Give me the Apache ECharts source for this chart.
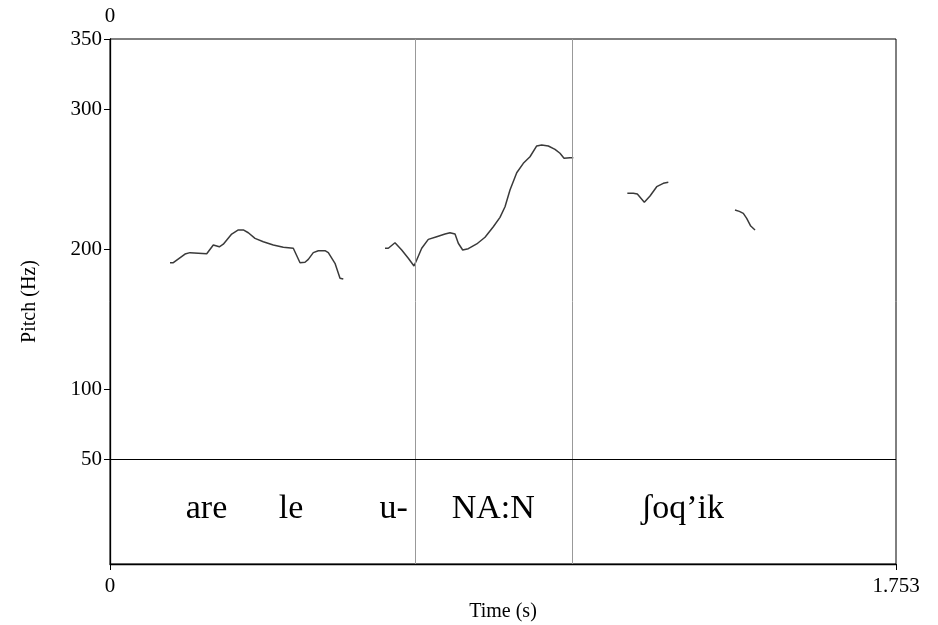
<!DOCTYPE html>
<html>
<head>
<meta charset="utf-8">
<script src="https://cdn.jsdelivr.net/npm/echarts@6/dist/echarts.min.js"></script>
<style>
  html, body { margin: 0; padding: 0; background: #fff; }
  #pitchChart { width: 938px; height: 625px; }
</style>
</head>
<body>
<div id="pitchChart"></div>
<script>
// pitch contour (time in s, pitch in Hz), one pair of arrays per voiced stretch
const seg1Time = [0.1338, 0.1412, 0.1673, 0.1784, 0.2157, 0.2304, 0.2438, 0.2527, 0.2714, 0.2862, 0.2973, 0.3085, 0.3234, 0.3419, 0.3642, 0.3865, 0.4088, 0.4238, 0.4349, 0.4423, 0.4534, 0.4646, 0.4795, 0.4869, 0.5018, 0.5130, 0.5203];
const seg1Hz   = [190.2, 190.2, 196.4, 197.4, 196.6, 202.9, 201.6, 203.4, 210.7, 213.6, 213.6, 211.6, 207.6, 205.2, 202.9, 201.2, 200.5, 190.2, 190.5, 192.6, 197.4, 198.8, 198.8, 197.4, 189.8, 179.1, 178.6];
const seg2Time = [0.6133, 0.6207, 0.6356, 0.6506, 0.6653, 0.6780, 0.6840, 0.6952, 0.7099, 0.7286, 0.7472, 0.7583, 0.7695, 0.7768, 0.7866, 0.7991, 0.8179, 0.8364, 0.8549, 0.8698, 0.8810, 0.8921, 0.9071, 0.9218, 0.9367, 0.9517, 0.9628, 0.9776, 0.9925, 1.0036, 1.0126, 1.0259, 1.0333];
const seg2Hz   = [200.5, 200.5, 204.5, 199.3, 193.4, 187.9, 192.1, 200.5, 206.9, 208.8, 210.7, 211.6, 210.7, 204.1, 199.3, 200.2, 203.6, 208.4, 215.9, 222.6, 230.2, 242.1, 254.5, 261.2, 265.9, 273.6, 274.3, 273.6, 271.2, 268.4, 264.8, 265.2, 265.2];
const seg3Time = [1.1538, 1.1671, 1.1761, 1.1917, 1.2044, 1.2193, 1.2340, 1.2452];
const seg3Hz   = [239.8, 239.8, 239.3, 233.4, 237.9, 244.5, 246.9, 247.6];
const seg4Time = [1.3939, 1.4036, 1.4125, 1.4200, 1.4290, 1.4386];
const seg4Hz   = [227.9, 226.9, 225.5, 221.9, 216.4, 213.6];

// text tier: interval boundaries (s) and the words with their centre times
const tierBoundaries = [0.678, 1.0326];
const tierWords = ['are', 'le', 'u-', 'NA:N', 'ʃoq’ik'];
const tierWordTimes = [0.2152, 0.4037, 0.6327, 0.8549, 1.2768];
const tierTop = 50;       // Hz line where the tier starts
const tierTextLevel = 14; // where the words sit inside the tier

// axes
const timeMax = 1.753;
const timeTicks = [0, 1.753];
const pitchMin = -25;
const pitchMax = 350;
const pitchTicks = [50, 100, 200, 300, 350];

const segments = [[seg1Time, seg1Hz], [seg2Time, seg2Hz], [seg3Time, seg3Hz], [seg4Time, seg4Hz]];
let contour = [];
segments.forEach(function (s, k) {
    if (k > 0) contour.push([s[0][0], '-']);
    s[0].forEach(function (t, i) { contour.push([t, s[1][i]]); });
});

const serif = 'Liberation Serif';

let chart = echarts.init(document.getElementById('pitchChart'));
let option = {
    backgroundColor: '#fff',
    animation: false,
    grid: {
        left: 110,
        right: 42,
        top: 39,
        bottom: 61,
        outerBoundsMode: 'none',
        containLabel: false,
        show: true,
        borderColor: '#000',
        borderWidth: 1
    },
    xAxis: [
        {
            type: 'value',
            min: 0,
            max: timeMax,
            position: 'bottom',
            name: 'Time (s)',
            nameLocation: 'middle',
            nameGap: 35,
            nameTextStyle: { fontFamily: serif, fontSize: 20, color: '#000' },
            axisLine: { show: true, onZero: false, lineStyle: { color: '#000', width: 1.3 } },
            axisTick: { show: true, length: 6, customValues: timeTicks, lineStyle: { color: '#000' } },
            axisLabel: {
                customValues: timeTicks,
                margin: 12,
                fontFamily: serif,
                fontSize: 21,
                color: '#000',
                formatter: function (v) { return String(v); }
            },
            splitLine: { show: false }
        },
        {
            type: 'value',
            min: 0,
            max: timeMax,
            position: 'top',
            axisLine: { show: false },
            axisTick: { show: false },
            axisLabel: {
                customValues: [0],
                margin: 12,
                fontFamily: serif,
                fontSize: 21,
                color: '#000',
                formatter: function (v) { return String(v); }
            },
            splitLine: { show: false }
        }
    ],
    yAxis: {
        type: 'value',
        min: pitchMin,
        max: pitchMax,
        interval: 25,
        name: 'Pitch (Hz)',
        nameLocation: 'middle',
        nameRotate: 90,
        nameGap: 70,
        nameTextStyle: { fontFamily: serif, fontSize: 20, color: '#000' },
        axisLine: { show: true, onZero: false, lineStyle: { color: '#000', width: 1.3 } },
        axisTick: { show: true, length: 6, customValues: pitchTicks, lineStyle: { color: '#000' } },
        axisLabel: {
            customValues: pitchTicks,
            margin: 8,
            fontFamily: serif,
            fontSize: 21,
            color: '#000'
        },
        splitLine: { show: false }
    },
    series: [
        {
            name: 'pitch',
            type: 'line',
            data: contour,
            showSymbol: false,
            connectNulls: false,
            lineStyle: { color: '#3a3a3a', width: 1.5 },
            silent: true,
            markLine: {
                silent: true,
                symbol: 'none',
                label: { show: false },
                data: tierBoundaries.map(function (b) {
                    return { xAxis: b, lineStyle: { color: '#999', width: 1, type: 'solid' } };
                }).concat([{ yAxis: tierTop, lineStyle: { color: '#000', width: 1, type: 'solid' } }])
            }
        },
        {
            name: 'tier',
            type: 'scatter',
            symbolSize: 1,
            itemStyle: { opacity: 0 },
            silent: true,
            data: tierWords.map(function (w, i) { return { value: [tierWordTimes[i], tierTextLevel], name: w }; }),
            label: {
                show: true,
                position: 'inside',
                formatter: function (p) { return p.name; },
                fontFamily: serif,
                fontSize: 34,
                color: '#000',
                opacity: 1
            }
        }
    ]
};
chart.setOption(option);
</script>
</body>
</html>
